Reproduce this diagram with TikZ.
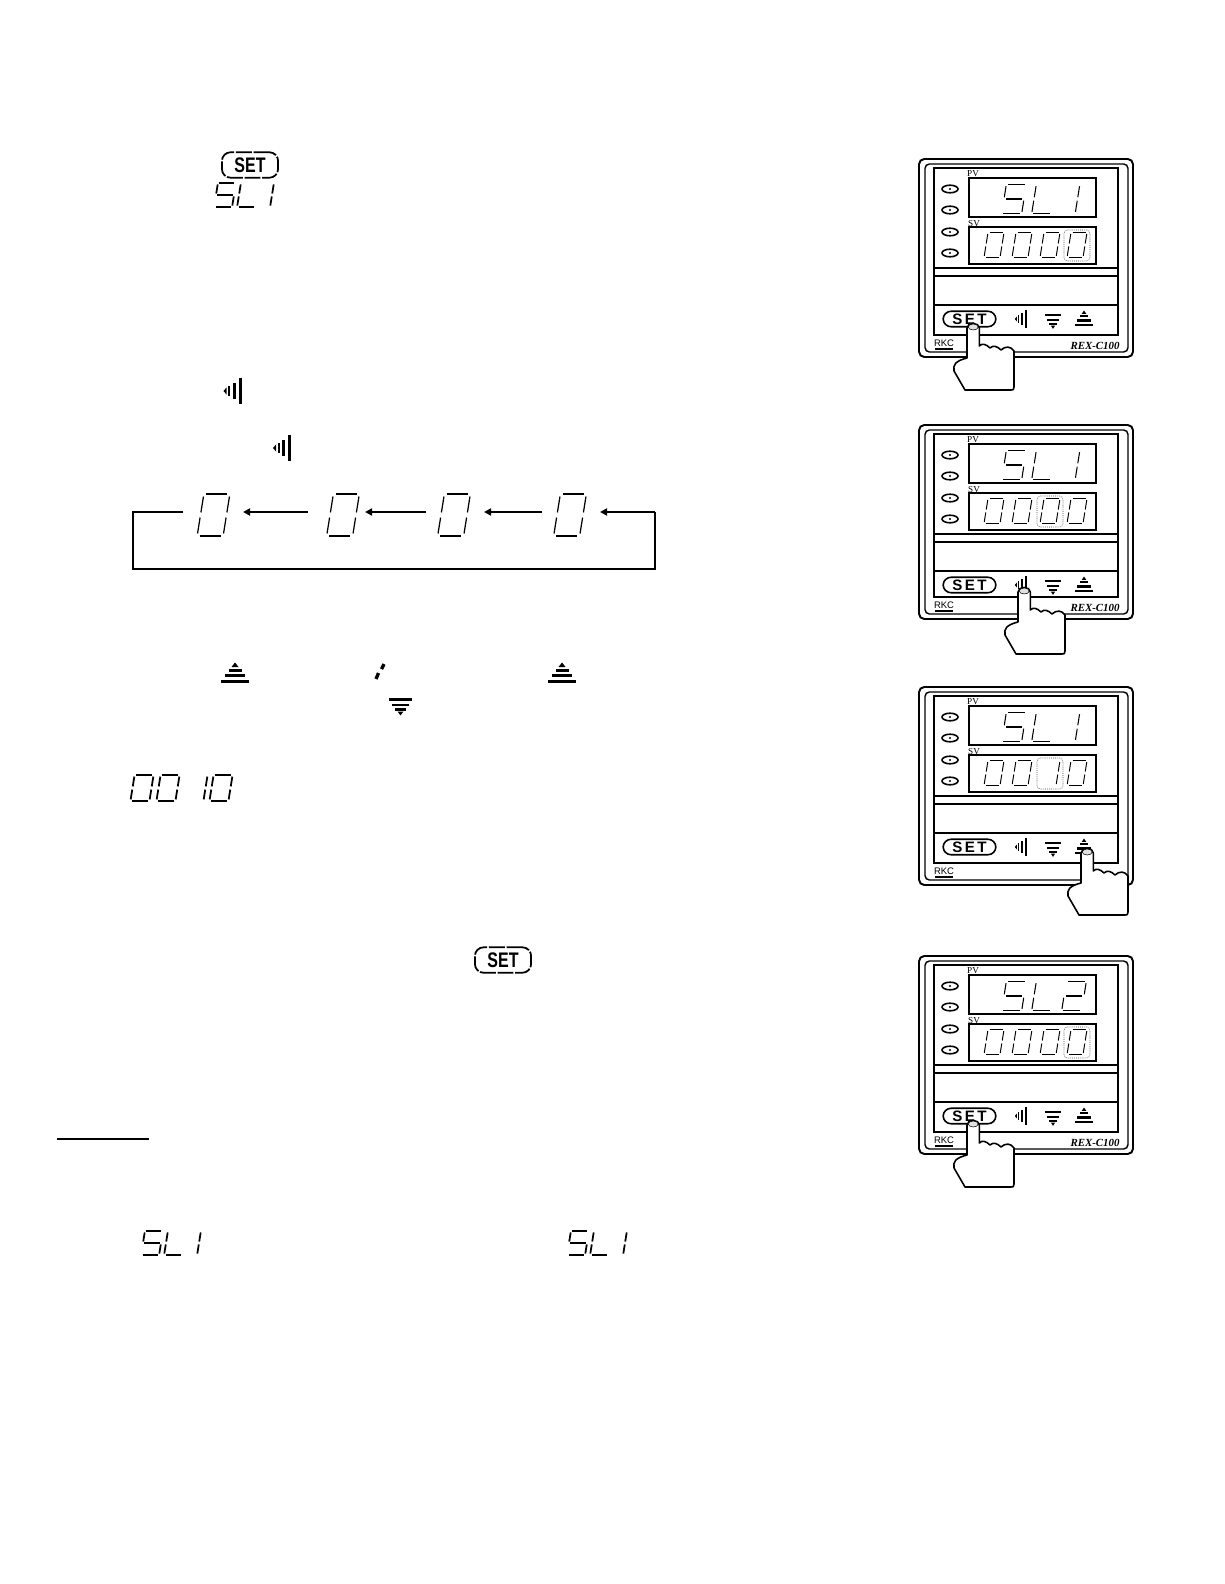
\documentclass[tikz,border=0pt]{standalone}
\usepackage{fontspec}
\setmainfont{Liberation Serif}
\setsansfont{Liberation Sans}
\usetikzlibrary{arrows.meta}
\tikzset{
  wire/.style={line width=1.5pt,line join=miter},
  flow/.style={wire,-{Triangle[length=4pt,width=4pt]}},
  frameline/.style={line width=1.1pt},
  thinframe/.style={line width=.8pt},
  spot/.style={line width=.4pt,dash pattern=on .5pt off .7pt,rounded corners=2pt,draw=black!70},
  handshape/.style={line width=.9pt,fill=white,line join=round}
}
\newcommand{\segdigit}[7]{%
  \begin{scope}[shift={(#1,#2)},xslant=.16]
    \pgfmathsetmacro{\W}{#3/2}\pgfmathsetmacro{\H}{#4/2}\pgfmathsetmacro{\G}{.12*\H}%
    \def\sga{\draw[line width=#6] ({-\W+\G},{-\H}) -- ({\W-\G},{-\H});}%
    \def\sgd{\draw[line width=#5] ({-\W+\G},{\H}) -- ({\W-\G},{\H});}%
    \def\sgg{\draw[line width=#5] ({-\W+\G},0) -- ({\W-\G},0);}%
    \def\sgf{\draw[line width=#5] ({-\W},{-\H+\G}) -- ({-\W},{-\G});}%
    \def\sge{\draw[line width=#5] ({-\W},{\G}) -- ({-\W},{\H-\G});}%
    \def\sgb{\draw[line width=#5] ({\W},{-\H+\G}) -- ({\W},{-\G});}%
    \def\sgc{\draw[line width=#5] ({\W},{\G}) -- ({\W},{\H-\G});}%
    \edef\seglist{#7}%
    \foreach \s in \seglist {\csname sg\s\endcsname}
  \end{scope}}
\def\dzero{a,b,c,d,e,f}
\def\dS{a,f,g,c,d}
\def\dL{f,e,d}
\def\done{b,c}
\def\dtwo{a,b,g,e,d}
% icons: centre, transform keys
\newcommand{\upicon}[3]{%
  \begin{scope}[shift={(#1,#2)},#3]
    \fill (-3.5,-8) -- (0,-12.5) -- (3.5,-8) -- cycle;
    \fill (-6.5,-6) rectangle (6.5,-3.5);
    \fill (-10,-1) rectangle (10,2);
    \fill (-14,5) rectangle (14,8);
  \end{scope}}
\newcommand{\downicon}[3]{%
  \begin{scope}[shift={(#1,#2)},#3]
    \fill (-3,7) -- (0,11) -- (3,7) -- cycle;
    \fill (-5.5,3.5) rectangle (5.5,6);
    \fill (-8.5,-1.5) rectangle (8.5,1);
    \fill (-12,-7.5) rectangle (12,-4.5);
  \end{scope}}
\newcommand{\shifticon}[3]{%
  \begin{scope}[shift={(#1,#2)},#3]
    \fill (-10,0) -- (-7,-3.5) -- (-7,3.5) -- cycle;
    \fill (-5.5,-5) rectangle (-3.5,5);
    \fill (-1,-8) rectangle (1.5,8);
    \fill (4.5,-12) rectangle (7.5,12);
  \end{scope}}
\newcommand{\seticon}[3]{% centre, name
  \node[draw,line width=1pt,dash pattern=on 9pt off 1pt,rounded corners=5pt,minimum width=32pt,minimum height=14.5pt,inner sep=0pt,font=\sffamily\bfseries\fontsize{12}{12}\selectfont] (#3) at (#1,#2) {\scalebox{.76}[1]{SET}};}
\newcommand{\hand}[2]{%
  \begin{scope}[shift={(#1,#2)}]
    \draw[handshape] (-6,5) .. controls (-6,-1) and (6.3,-1) .. (6.3,5) -- (6.3,23)
      .. controls (9,20) and (13,21) .. (17,25) .. controls (20,22) and (24,23) .. (28,27)
      .. controls (32,23) and (38,23) .. (41,28) -- (41,64) .. controls (41,67) and (40,67) .. (38,67)
      -- (-8,67) -- (-19,48) .. controls (-20,42) and (-18,38) .. (-6,35) -- cycle;
    \draw[line width=.3pt,fill=black!12] (0.2,4) ellipse [x radius=5,y radius=3];
  \end{scope}}
% top y, pv 3rd segs, pv 3rd cx, sv 3rd segs, spot cx, hand x, hand y, rex text; \pb = height saved at the bottom
\newcommand{\panelunit}[8]{%
  \begin{scope}[shift={(919,#1)}]
    \draw[frameline,rounded corners=3pt] (0,0) rectangle (214,198-\pb);
    \draw[thinframe,rounded corners=2.5pt] (6,5) rectangle (209,193-\pb);
    \draw[frameline] (15,9) rectangle (199,176-\pb);
    \draw[frameline] (50,19) rectangle (177,58);
    \draw[frameline] (50,68) rectangle (177,105);
    \draw[frameline] (15,109) -- (199,109);
    \draw[frameline] (15,117) -- (199,117);
    \draw[frameline] (15,146) -- (199,146);
    \foreach \yy in {30,51,73,94} {
      \draw[line width=.9pt] (31,\yy) ellipse [x radius=8,y radius=3.8];
      \fill (31,\yy) circle (1.2);
    }
    \node[font=\fontsize{5.2}{5}\selectfont,inner sep=0pt] (pvlab) at (54,15) {PV};
    \node[font=\fontsize{5.2}{5}\selectfont,inner sep=0pt] (svlab) at (55,65) {SV};
    \segdigit{95}{40}{20}{29}{.6pt}{.8pt}{\dS}
    \segdigit{125}{40}{20}{29}{.6pt}{.6pt}{\dL}
    \segdigit{#3}{40}{20}{29}{.6pt}{.6pt}{#2}
    \segdigit{75}{86}{16}{25}{.55pt}{.55pt}{\dzero}
    \segdigit{103}{86}{16}{25}{.55pt}{.55pt}{\dzero}
    \segdigit{131}{86}{16}{25}{.55pt}{.55pt}{#4}
    \segdigit{158}{86}{16}{25}{.55pt}{.55pt}{\dzero}
    \draw[spot] (#5-13,71) rectangle (#5+13,102);
    \node[draw,line width=.9pt,rounded corners=4.5pt,minimum width=30pt,minimum height=8.8pt,inner sep=0pt,font=\sffamily\bfseries\fontsize{8.6}{9}\selectfont] (setb) at (50.5,160) {S\,E\,T};
    \shifticon{103}{160}{scale=.72}
    \downicon{134}{161}{scale=.7,yscale=1.15}
    \upicon{165}{161}{scale=.66,yscale=1.15}
    \node[font=\sffamily\fontsize{5.4}{5}\selectfont,inner sep=0pt] (rkc) at (25,184-\pb) {RKC};
    \draw[line width=.7pt] (16,190-\pb) -- (34,190-\pb);
    #8
    \hand{#6}{#7}
  \end{scope}}
\newcommand{\rextext}{\node[font=\bfseries\itshape\fontsize{6.2}{6}\selectfont,inner sep=0pt] (rex) at (176,187-\pb) {REX-C100};}
\begin{document}
\begin{tikzpicture}[x=0.02cm,y=-0.02cm]
\useasboundingbox (0,0) rectangle (1224,1584);
\fill[white] (0,0) rectangle (1224,1584);

% inline symbols
\seticon{250}{165}{seta}
\segdigit{225}{195}{18}{24}{1pt}{1pt}{\dS}
\segdigit{248}{195}{18}{24}{1pt}{1pt}{\dL}
\segdigit{263}{195}{18}{24}{1pt}{1pt}{\done}
\shifticon{234}{391}{scale=1.05}
\shifticon{283.5}{448}{scale=1.05}

% digit ring
\coordinate (stub) at (183,512);
\coordinate (cornerA) at (133,512);
\coordinate (cornerB) at (133,569);
\coordinate (cornerC) at (655,569);
\coordinate (cornerD) at (655,512);
\coordinate (a1s) at (308,512); \coordinate (a1e) at (243,512);
\coordinate (a2s) at (426,512); \coordinate (a2e) at (365,512);
\coordinate (a3s) at (542,512); \coordinate (a3e) at (484,512);
\coordinate (a4e) at (600,512);
\segdigit{213.5}{515}{26}{42}{.7pt}{1.4pt}{\dzero}
\segdigit{343}{515}{26}{42}{.7pt}{1.4pt}{\dzero}
\segdigit{454}{515}{26}{42}{.7pt}{1.4pt}{\dzero}
\segdigit{570}{515}{26}{42}{.7pt}{1.4pt}{\dzero}
\draw[wire] (stub) -- (cornerA) -- (cornerB) -- (cornerC) -- (cornerD);
\draw[flow] (cornerD) -- (a4e);
\draw[flow] (a3s) -- (a3e);
\draw[flow] (a2s) -- (a2e);
\draw[flow] (a1s) -- (a1e);

% second row symbols
\upicon{235}{675}{scale=1}
\upicon{562}{675}{scale=1}
\downicon{400.5}{705}{scale=.95}
\draw[line width=1.9pt] (384,664) -- (381.5,669);
\draw[line width=1.9pt] (378.5,673) -- (376,679);
\segdigit{142}{788}{19}{26}{1pt}{1.2pt}{\dzero}
\segdigit{168}{788}{19}{26}{1pt}{1.2pt}{\dzero}
\segdigit{196}{788}{19}{26}{1pt}{1.2pt}{\done}
\segdigit{221}{788}{19}{26}{1pt}{1.2pt}{\dzero}
\seticon{503}{960}{setc}

% note rule and symbols
\draw[line width=.6pt] (57,1139) -- (149,1139);
\segdigit{152}{1243}{18}{24}{1pt}{1pt}{\dS}
\segdigit{175}{1243}{18}{24}{1pt}{1pt}{\dL}
\segdigit{190}{1243}{18}{24}{1pt}{1pt}{\done}
\segdigit{578}{1243}{18}{24}{1pt}{1pt}{\dS}
\segdigit{601}{1243}{18}{24}{1pt}{1pt}{\dL}
\segdigit{616}{1243}{18}{24}{1pt}{1pt}{\done}

% controller panels
\def\pb{0}
\panelunit{159}{\done}{148.5}{\dzero}{158}{54}{164}{\rextext}
\def\pb{4}
\panelunit{425}{\done}{148.5}{\dzero}{131}{105}{162}{\rextext}
\def\pb{0}
\panelunit{687}{\done}{148.5}{\done}{131}{168}{161}{}
\panelunit{956}{\dtwo}{155}{\dzero}{158}{54}{164}{\rextext}
\end{tikzpicture}
\end{document}
